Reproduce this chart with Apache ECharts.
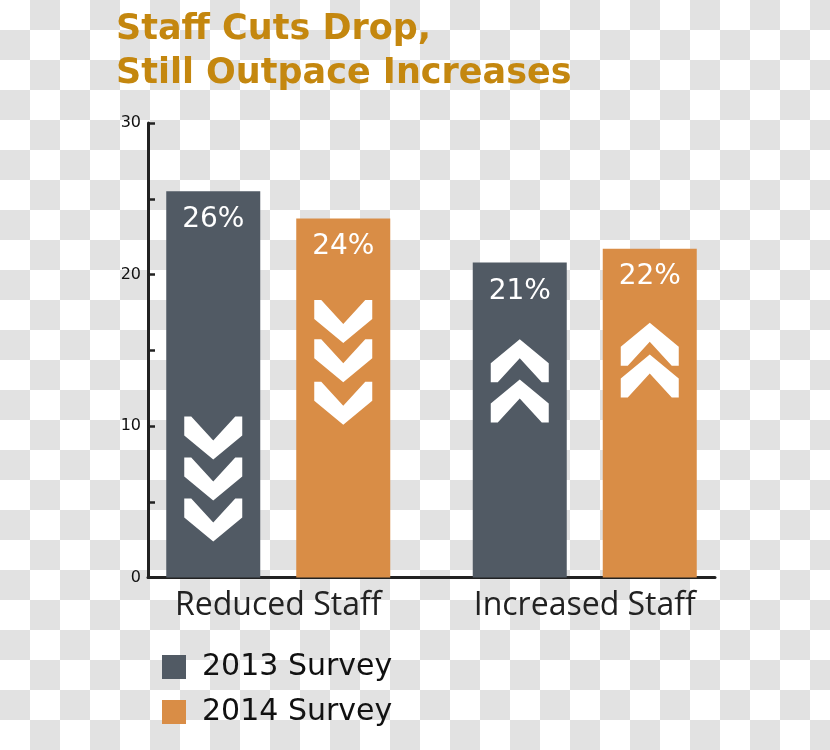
<!DOCTYPE html>
<html>
<head>
<meta charset="utf-8">
<script src="https://cdn.jsdelivr.net/npm/echarts@6/dist/echarts.min.js"></script>
<style>
  html, body { margin: 0; padding: 0; }
  body {
    width: 830px; height: 750px;
    background: repeating-conic-gradient(#e2e2e2 0 25%, #ffffff 0 50%) 0 0 / 60px 60px;
  }
  #chart { width: 830px; height: 750px; }
</style>
</head>
<body>
<div id="chart"></div>
<script>
// ---- data ----
const categories = ['Reduced Staff', 'Increased Staff'];
const seriesNames = ['2013 Survey', '2014 Survey'];
const values2013 = [25.5, 20.8];
const values2014 = [23.7, 21.7];
const labels2013 = ['26%', '21%'];
const labels2014 = ['24%', '22%'];
const yTicks = [0, 10, 20, 30];
// chevron decorations (value-axis levels inside each bar) and direction per category
const chevronDirection = ['down', 'up'];
const chevrons2013 = [[9.2, 6.5, 3.8], [14.3, 11.65]];
const chevrons2014 = [[16.9, 14.3, 11.5], [15.4, 13.3]];

// ---- styles ----
const DARK = '#515a64';
const ORANGE = '#d98d46';
const TITLE = '#c4870f';
const AXIS = '#222222';
const BAR_W = 94;
const BAR_GAP = 36;
const OFFSET = (BAR_W + BAR_GAP) / 2;
const DOWN = 'path://M0,0 L7,0 L29,24 L51,0 L58,0 L58,19 L29,43 L0,19 Z';
const UP = 'path://M0,43 L7,43 L29,19 L51,43 L58,43 L58,24 L29,0 L0,24 Z';

function chevronData(levels) {
  const out = [];
  levels.forEach((arr, ci) => {
    arr.forEach(v => out.push({ value: [ci, v], symbol: chevronDirection[ci] === 'down' ? DOWN : UP }));
  });
  return out;
}

const chart = echarts.init(document.getElementById('chart'), null, { renderer: 'canvas' });
const gridTop = 123, gridBottom = 172.5;

chart.setOption({
  animation: false,
  title: {
    text: 'Staff Cuts Drop,\nStill Outpace Increases',
    left: 116, top: 8, padding: 0,
    textStyle: { fontFamily: 'DejaVu Sans', fontWeight: 'bold', fontSize: 35, lineHeight: 44, color: TITLE }
  },
  legend: {
    data: seriesNames,
    orient: 'vertical',
    left: 162, top: 652, padding: 0,
    itemWidth: 24, itemHeight: 24, itemGap: 15,
    icon: 'rect',
    selectedMode: false,
    textStyle: { fontFamily: 'DejaVu Sans', fontSize: 30, color: '#111', padding: [0, 0, 0, 11] }
  },
  grid: [
    { left: 148, right: 115, top: gridTop, bottom: gridBottom },
    { left: 125, right: 92, top: gridTop, bottom: gridBottom }
  ],
  xAxis: [
    {
      type: 'category', gridIndex: 0, data: categories,
      axisLine: { lineStyle: { color: AXIS, width: 3 } },
      axisTick: { inside: true, length: 8, lineStyle: { color: AXIS, width: 2 } },
      axisLabel: { show: false }
    },
    {
      type: 'category', gridIndex: 1, data: categories,
      axisLine: { show: false }, axisTick: { show: false },
      axisLabel: { fontFamily: 'Open Sans', fontSize: 32, color: '#222', margin: 12 }
    }
  ],
  yAxis: [
    {
      type: 'value', gridIndex: 0, min: 0, max: 30, interval: 5,
      splitLine: { show: false },
      axisLine: { show: true, lineStyle: { color: AXIS, width: 3 } },
      axisTick: { show: true, inside: true, length: 7, lineStyle: { color: AXIS, width: 2.5 } },
      axisLabel: {
        fontFamily: 'DejaVu Sans', fontSize: 16, color: '#111', margin: 7,
        formatter: v => (yTicks.indexOf(v) >= 0 ? String(v) : '')
      }
    },
    {
      type: 'value', gridIndex: 1, min: 0, max: 30, interval: 5, show: false
    }
  ],
  series: [
    {
      name: seriesNames[0], type: 'bar', xAxisIndex: 1, yAxisIndex: 1,
      data: values2013, barWidth: BAR_W, barGap: (BAR_GAP / BAR_W * 100) + '%',
      itemStyle: { color: DARK },
      label: { show: true, position: 'insideTop', distance: 15, color: '#fff',
        fontFamily: 'DejaVu Sans', fontSize: 28, formatter: p => labels2013[p.dataIndex] },
      silent: true, z: 2
    },
    {
      name: seriesNames[1], type: 'bar', xAxisIndex: 1, yAxisIndex: 1,
      data: values2014, barWidth: BAR_W, barGap: (BAR_GAP / BAR_W * 100) + '%',
      itemStyle: { color: ORANGE },
      label: { show: true, position: 'insideTop', distance: 14, color: '#fff',
        fontFamily: 'DejaVu Sans', fontSize: 28, formatter: p => labels2014[p.dataIndex] },
      silent: true, z: 2
    },
    {
      type: 'scatter', xAxisIndex: 1, yAxisIndex: 1,
      data: chevronData(chevrons2013), symbolSize: [58, 43], symbolOffset: [-OFFSET, 0],
      itemStyle: { color: '#fff', opacity: 1 }, silent: true, z: 5
    },
    {
      type: 'scatter', xAxisIndex: 1, yAxisIndex: 1,
      data: chevronData(chevrons2014), symbolSize: [58, 43], symbolOffset: [OFFSET, 0],
      itemStyle: { color: '#fff', opacity: 1 }, silent: true, z: 5
    }
  ]
});
</script>
</body>
</html>
